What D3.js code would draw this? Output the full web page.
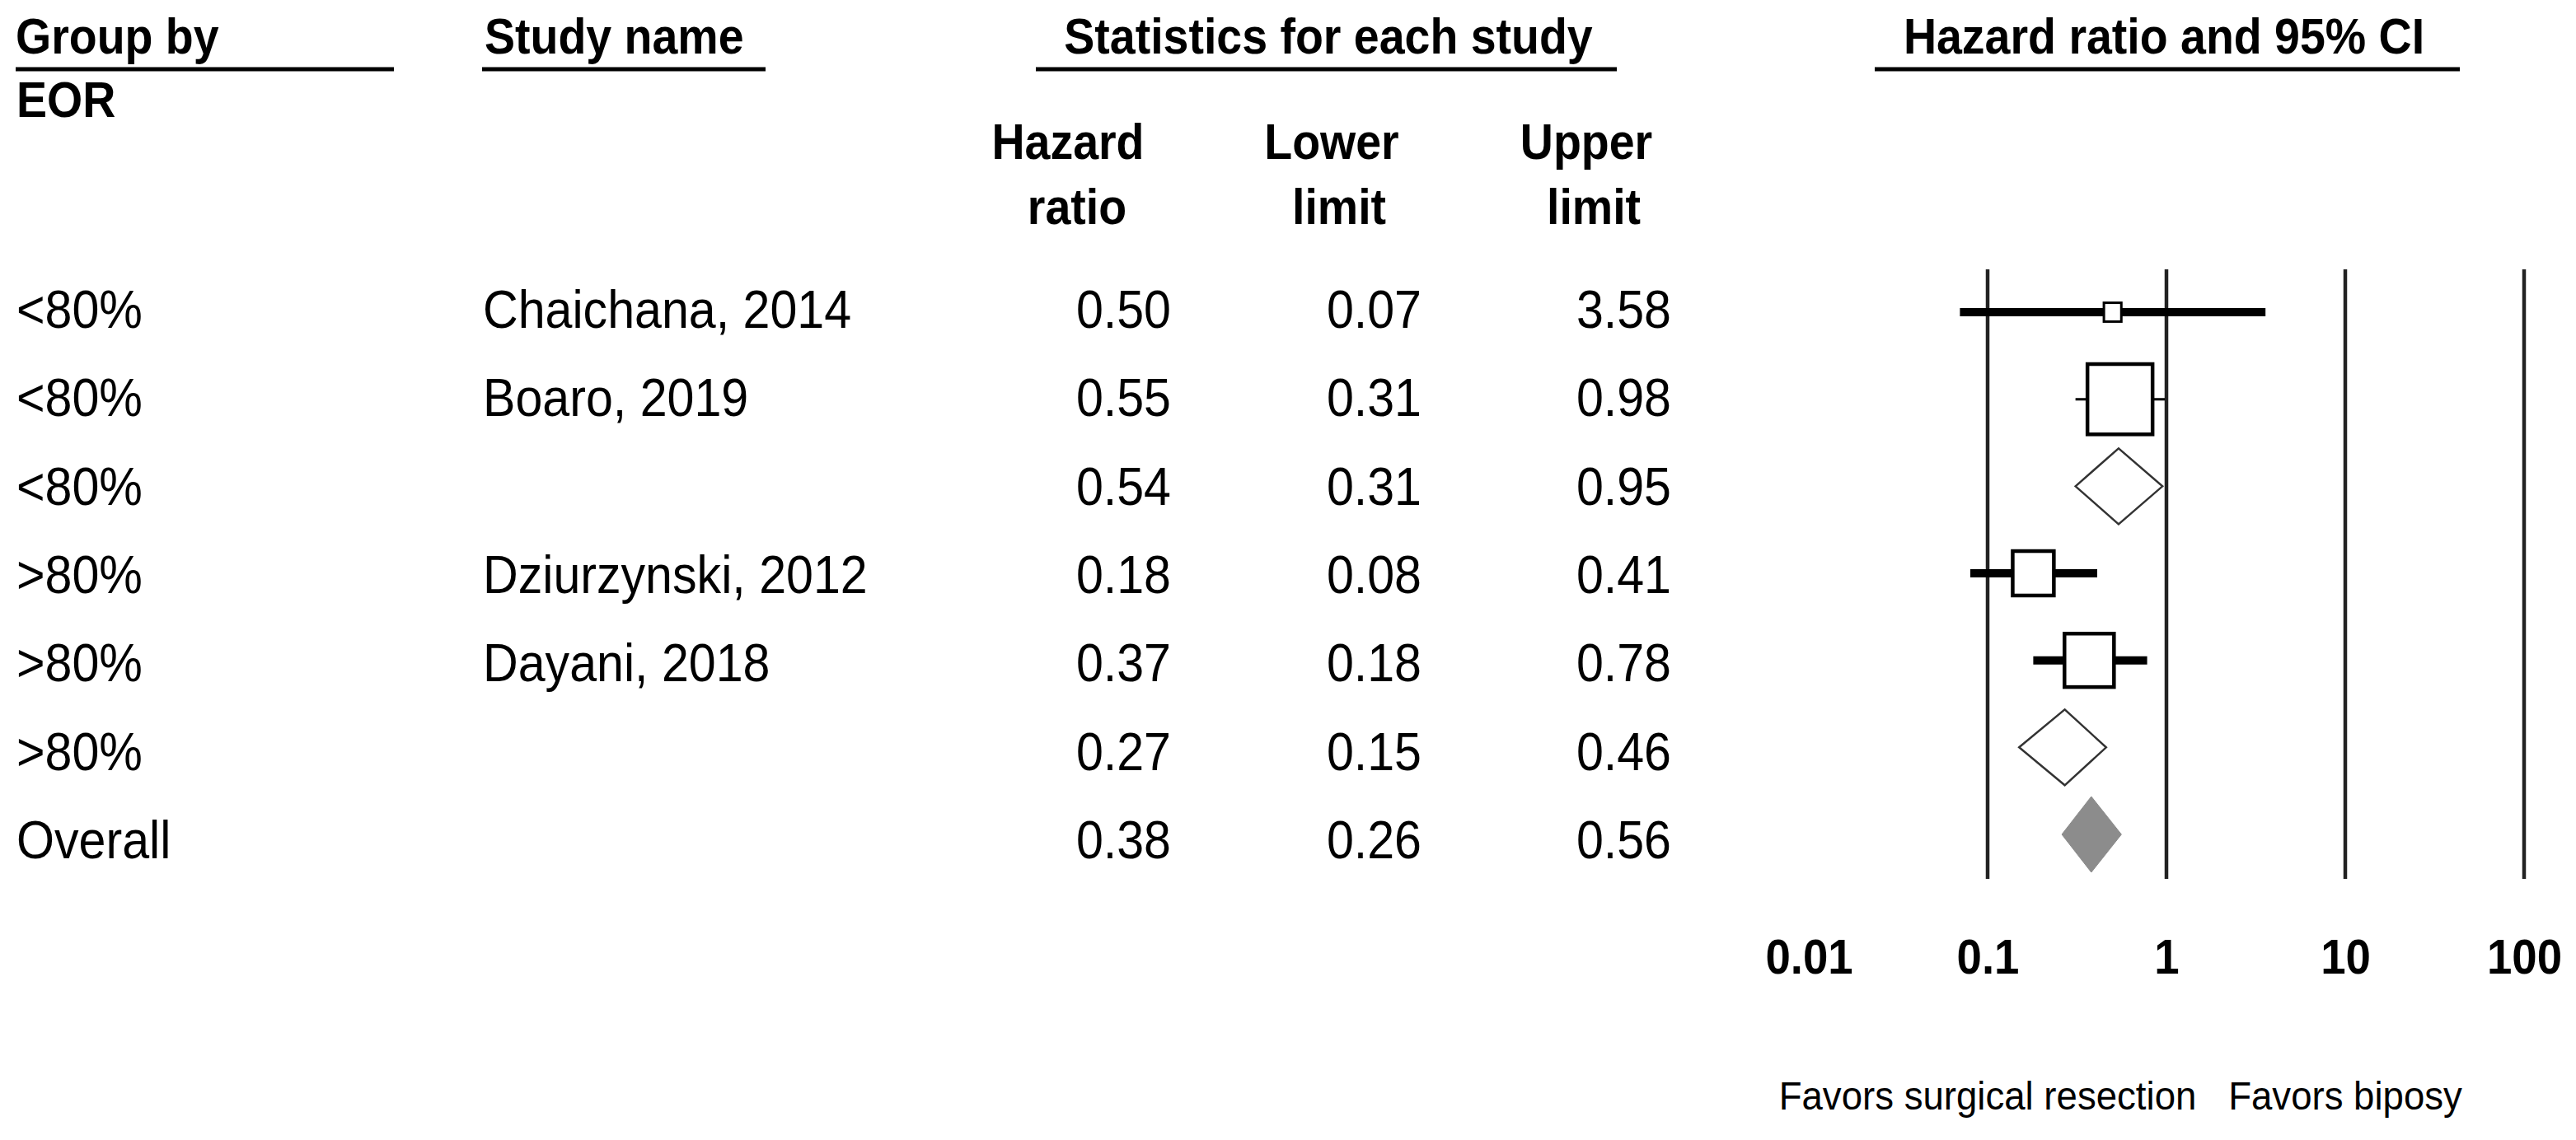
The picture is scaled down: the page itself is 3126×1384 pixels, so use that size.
<!DOCTYPE html>
<html>
<head>
<meta charset="utf-8">
<script src="https://cdn.jsdelivr.net/npm/d3@7"></script>
<style>
  html, body { margin: 0; padding: 0; background: #fff; }
  svg { display: block; }
</style>
</head>
<body>
<script>
// ---- data ----
const groups = ["<80%", "<80%", "<80%", ">80%", ">80%", ">80%", "Overall"];
const studies = ["Chaichana, 2014", "Boaro, 2019", "", "Dziurzynski, 2012", "Dayani, 2018", "", ""];
const rowTypes = ["study", "study", "subtotal", "study", "study", "subtotal", "overall"];
const hazardRatio = [0.50, 0.55, 0.54, 0.18, 0.37, 0.27, 0.38];
const lowerLimit = [0.07, 0.31, 0.31, 0.08, 0.18, 0.15, 0.26];
const upperLimit = [3.58, 0.98, 0.95, 0.41, 0.78, 0.46, 0.56];
const relWeight = [3.5, 48.8, null, 19.5, 28.2, null, null];
const tickValues = [0.01, 0.1, 1, 10, 100];
const refLines = [0.1, 1, 10, 100];
const headerTop = ["Group by", "Study name", "Statistics for each study", "Hazard ratio and 95% CI"];
const colHeads = [["Hazard", "ratio"], ["Lower", "limit"], ["Upper", "limit"]];
const favorLabels = ["Favors surgical resection", "Favors biposy"];
const groupVar = "EOR";

// ---- setup ----
const W = 3126, H = 1384;
const FONT = "'Liberation Sans', Arial, Helvetica, sans-serif";
const SX = 0.91;

const svg = d3.select("body").append("svg")
  .attr("width", W).attr("height", H)
  .attr("viewBox", `0 0 ${W} ${H}`);
svg.append("rect").attr("width", W).attr("height", H).attr("fill", "#fff");

function txt(x, y, s, o = {}) {
  return svg.append("text")
    .attr("transform", `translate(${x},${y}) scale(${o.sx || SX},1)`)
    .attr("text-anchor", o.anchor || "start")
    .attr("font-family", FONT)
    .attr("font-size", o.size || 65)
    .attr("font-weight", o.bold ? "bold" : "normal")
    .attr("fill", "#000")
    .text(s);
}
function hline(x1, x2, y, w) {
  svg.append("line").attr("x1", x1).attr("x2", x2).attr("y1", y).attr("y2", y)
    .attr("stroke", "#000").attr("stroke-width", w);
}

const n = groups.length;
const idx = d3.range(n);
const textY = d3.scalePoint().domain(idx).range([398, 1042]);
const markY = d3.scalePoint().domain(idx).range([379, 1013]);
const x = d3.scaleLog().domain([0.01, 100]).range([2195, 3063]);
const boxSize = d3.scaleSqrt().domain([0, 48.8]).range([0, 79]);

// ---- headers ----
txt(19, 65, headerTop[0], {bold: true, size: 61});
hline(19, 478, 84, 5);
txt(588, 65, headerTop[1], {bold: true, size: 61});
hline(585, 929, 84, 5);
txt(1612, 65, headerTop[2], {bold: true, size: 61, anchor: "middle"});
hline(1257, 1962, 84, 5);
txt(2626, 65, headerTop[3], {bold: true, size: 61, anchor: "middle"});
hline(2275, 2985, 84, 5);
txt(20, 142, groupVar, {bold: true, size: 61});

const colCenters = [[1296, 1307], [1616, 1625], [1925, 1934]];
colHeads.forEach((lines, i) => {
  txt(colCenters[i][0], 193, lines[0], {bold: true, size: 61, anchor: "middle"});
  txt(colCenters[i][1], 272, lines[1], {bold: true, size: 61, anchor: "middle"});
});

// ---- table rows ----
const valueRight = [1421, 1725, 2028];
const fmt = d3.format(".2f");
idx.forEach(i => {
  const y = textY(i);
  txt(20, y, groups[i]);
  if (studies[i]) txt(586, y, studies[i]);
  txt(valueRight[0], y, fmt(hazardRatio[i]), {anchor: "end"});
  txt(valueRight[1], y, fmt(lowerLimit[i]), {anchor: "end"});
  txt(valueRight[2], y, fmt(upperLimit[i]), {anchor: "end"});
});

// ---- forest plot ----
const plot = svg.append("g");
plot.selectAll("line.ref").data(refLines).join("line")
  .attr("class", "ref")
  .attr("x1", d => x(d)).attr("x2", d => x(d))
  .attr("y1", 327).attr("y2", 1067)
  .attr("stroke", "#222").attr("stroke-width", 4.5);

const thinCI = new Set(["Boaro, 2019"]);
idx.forEach(i => {
  const y = markY(i);
  const t = rowTypes[i];
  if (t === "study") {
    plot.append("line")
      .attr("x1", x(lowerLimit[i])).attr("x2", x(upperLimit[i]))
      .attr("y1", y).attr("y2", y)
      .attr("stroke", "#000")
      .attr("stroke-width", thinCI.has(studies[i]) ? 3 : 10);
    const s = boxSize(relWeight[i]);
    const h = s * 1.08;
    plot.append("rect")
      .attr("x", x(hazardRatio[i]) - s / 2).attr("y", y - h / 2)
      .attr("width", s).attr("height", h)
      .attr("fill", "#fff").attr("stroke", "#000")
      .attr("stroke-width", s < 30 ? 3 : 4.5);
  } else {
    const hh = 46;
    const pts = [
      [x(lowerLimit[i]), y], [x(hazardRatio[i]), y - hh],
      [x(upperLimit[i]), y], [x(hazardRatio[i]), y + hh]
    ];
    plot.append("path")
      .attr("d", d3.line()(pts) + "Z")
      .attr("fill", t === "overall" ? "#8c8c8c" : "#fff")
      .attr("stroke", t === "overall" ? "#8c8c8c" : "#333")
      .attr("stroke-width", t === "overall" ? 1 : 2.5);
  }
});

// ---- axis labels ----
const axis = d3.axisBottom(x).tickValues(tickValues).tickSize(0)
  .tickFormat(d => d3.format("~g")(d));
const ag = svg.append("g").attr("transform", "translate(0,1182)").call(axis);
ag.select(".domain").remove();
ag.selectAll("text")
  .attr("y", 0).attr("dy", 0)
  .attr("transform", `scale(${SX},1)`)
  .attr("font-family", FONT).attr("font-size", 60).attr("font-weight", "bold")
  .attr("fill", "#000");

// ---- favors labels ----
txt(x(0.1), 1347, favorLabels[0], {size: 48, anchor: "middle", sx: 0.95});
txt(x(10), 1347, favorLabels[1], {size: 48, anchor: "middle", sx: 0.95});
</script>
</body>
</html>
